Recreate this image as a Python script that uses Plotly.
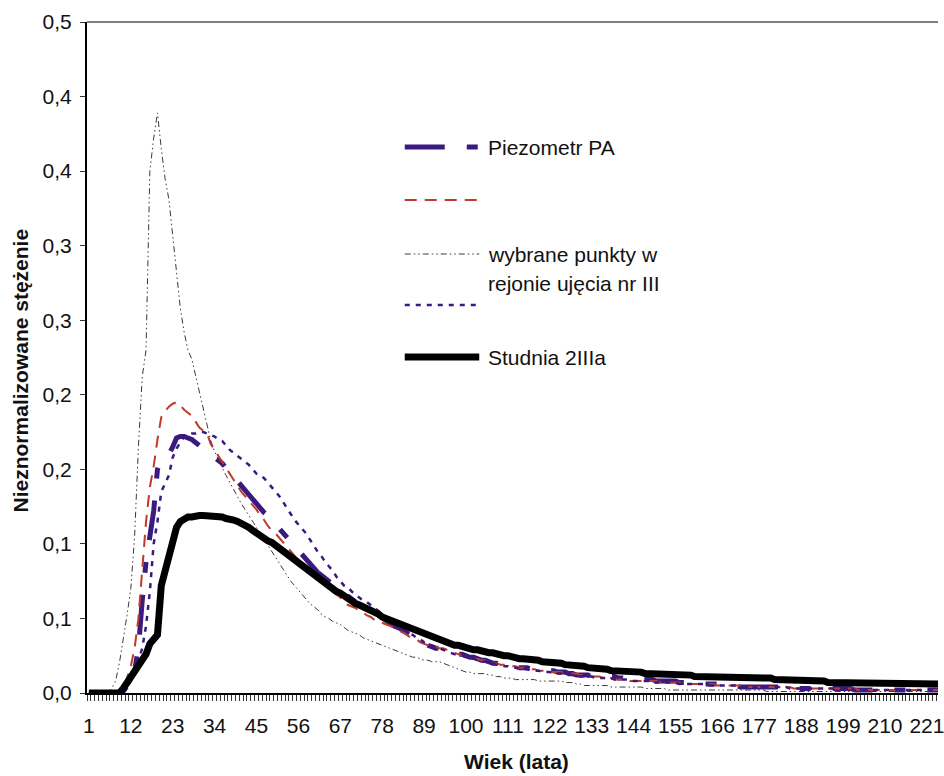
import plotly.graph_objects as go

# ---------------- data ----------------
age = list(range(1, 227))            # Wiek (lata), categories 1..226
x_tick_ages = list(range(1, 222, 11))  # 1, 12, 23, ..., 221
y_tick_vals = [0, 0.05, 0.10, 0.15, 0.20, 0.25, 0.30, 0.35, 0.40, 0.45]
y_tick_text = ["0,0", "0,1", "0,1", "0,2", "0,2", "0,3", "0,3", "0,4", "0,4", "0,5"]

piezometr_pa = (
    [0, 0, 0, 0, 0, 0, 0, 0, 0, 0.001] +
    [0.004, 0.008, 0.015, 0.030, 0.062, 0.088, 0.105, 0.122, 0.150, 0.157] +
    [0.158, 0.160, 0.165, 0.171, 0.172, 0.172, 0.171, 0.170, 0.168, 0.166] +
    [0.165, 0.163, 0.161, 0.159, 0.157, 0.154, 0.151, 0.148, 0.144, 0.141] +
    [0.138, 0.135, 0.132, 0.130, 0.127, 0.124, 0.121, 0.119, 0.116, 0.113] +
    [0.110, 0.107, 0.104, 0.101, 0.098, 0.095, 0.092, 0.089, 0.086, 0.083] +
    [0.081, 0.079, 0.077, 0.074, 0.072, 0.070, 0.068, 0.066, 0.064, 0.063] +
    [0.061, 0.060, 0.058, 0.057, 0.055, 0.054, 0.052, 0.050, 0.048, 0.046] +
    [0.045, 0.044, 0.043, 0.041, 0.039, 0.038, 0.037, 0.035, 0.033, 0.032] +
    [0.031, 0.030, 0.030, 0.029, 0.029, 0.028, 0.027, 0.026, 0.026, 0.025] +
    [0.024, 0.024, 0.023, 0.022, 0.022, 0.021, 0.020, 0.020, 0.019, 0.019] +
    [0.019, 0.018, 0.017, 0.017, 0.017, 0.017, 0.016, 0.016, 0.016, 0.016] +
    [0.016, 0.015, 0.015, 0.014, 0.014, 0.014, 0.013, 0.013, 0.012, 0.012] +
    [0.012, 0.012, 0.011, 0.011, 0.011, 0.011, 0.011, 0.011, 0.011, 0.010] +
    [0.010, 0.009, 0.009, 0.009, 0.009, 0.009, 0.009, 0.009, 0.009, 0.008] +
    [0.008, 0.008, 0.008, 0.008, 0.008, 0.007, 0.007, 0.007, 0.007, 0.007] +
    [0.007, 0.006, 0.006, 0.006, 0.006, 0.006, 0.005, 0.005, 0.005, 0.005] +
    [0.005] + [0.004] * 9 +
    [0.004] * 4 + [0.003] * 6 +
    [0.003] * 10 +
    [0.003] + [0.002] * 9 +
    [0.002] * 16
)

seria_czerwona = (
    [0, 0, 0, 0, 0, 0, 0, 0, 0, 0.004] +
    [0.010, 0.018, 0.030, 0.050, 0.085, 0.115, 0.138, 0.152, 0.170, 0.185] +
    [0.189, 0.192, 0.194, 0.195, 0.193, 0.190, 0.188, 0.186, 0.182, 0.178] +
    [0.176, 0.174, 0.167, 0.163, 0.159, 0.155, 0.151, 0.147, 0.143, 0.139] +
    [0.135, 0.132, 0.129, 0.126, 0.123, 0.119, 0.116, 0.112, 0.109, 0.107] +
    [0.104, 0.101, 0.098, 0.095, 0.092, 0.089, 0.087, 0.084, 0.081, 0.079] +
    [0.077, 0.075, 0.072, 0.070, 0.068, 0.066, 0.064, 0.061, 0.059, 0.058] +
    [0.057, 0.055, 0.054, 0.052, 0.051, 0.049, 0.048, 0.047, 0.046, 0.045] +
    [0.044, 0.043, 0.041, 0.040, 0.038, 0.037, 0.036, 0.034, 0.033, 0.032] +
    [0.031, 0.031, 0.030, 0.030, 0.029, 0.028, 0.027, 0.026, 0.025, 0.024] +
    [0.024, 0.023, 0.023, 0.022, 0.022, 0.021, 0.020, 0.020, 0.019, 0.019] +
    [0.018, 0.018, 0.018, 0.017, 0.017, 0.016, 0.016, 0.016, 0.015, 0.015] +
    [0.015, 0.014, 0.014, 0.014, 0.014, 0.013, 0.013, 0.013, 0.013, 0.012] +
    [0.012, 0.012, 0.011, 0.011, 0.011, 0.010, 0.010, 0.010, 0.009, 0.009] +
    [0.009, 0.009, 0.008, 0.008, 0.008, 0.008, 0.008, 0.008, 0.008, 0.008] +
    [0.007, 0.007, 0.007, 0.007, 0.007, 0.007, 0.006, 0.006, 0.006, 0.006] +
    [0.006] * 5 + [0.005] * 5 +
    [0.005, 0.005] + [0.004] * 8 +
    [0.004] * 5 + [0.003] * 5 +
    [0.003] * 10 +
    [0.003, 0.003] + [0.002] * 8 +
    [0.002] * 16
)

wybrane_punkty = (
    [0, 0, 0, 0, 0, 0, 0.003, 0.008, 0.020, 0.035] +
    [0.052, 0.070, 0.105, 0.165, 0.212, 0.230, 0.350, 0.372, 0.389, 0.365] +
    [0.345, 0.331, 0.305, 0.280, 0.258, 0.242, 0.230, 0.224, 0.213, 0.200] +
    [0.191, 0.180, 0.169, 0.162, 0.156, 0.151, 0.146, 0.141, 0.136, 0.131] +
    [0.127, 0.123, 0.119, 0.115, 0.111, 0.107, 0.103, 0.099, 0.095, 0.091] +
    [0.087, 0.083, 0.079, 0.075, 0.072, 0.069, 0.066, 0.063, 0.060, 0.058] +
    [0.056, 0.053, 0.051, 0.050, 0.048, 0.047, 0.046, 0.044, 0.042, 0.041] +
    [0.040, 0.039, 0.037, 0.036, 0.035, 0.034, 0.033, 0.032, 0.031, 0.030] +
    [0.029, 0.028, 0.027, 0.026, 0.025, 0.024, 0.024, 0.023, 0.022, 0.022] +
    [0.021, 0.021, 0.021, 0.020, 0.019, 0.018, 0.017, 0.016, 0.015, 0.014] +
    [0.014, 0.013, 0.013, 0.013, 0.013, 0.012, 0.012, 0.011, 0.011, 0.010] +
    [0.010, 0.010, 0.009, 0.009, 0.009, 0.009, 0.009, 0.009, 0.008, 0.008] +
    [0.008, 0.008, 0.008, 0.008, 0.008, 0.007, 0.007, 0.007, 0.006, 0.006] +
    [0.005, 0.005, 0.005, 0.005, 0.005, 0.005, 0.005, 0.004, 0.004, 0.004] +
    [0.004] * 6 + [0.003] * 4 +
    [0.003, 0.003] + [0.002] * 8 +
    [0.002] * 10 +
    [0.002] * 8 + [0.001] * 2 +
    [0.001] * 46
)

seria_kropkowana = (
    [0, 0, 0, 0, 0, 0, 0, 0, 0, 0.001] +
    [0.004, 0.008, 0.014, 0.022, 0.030, 0.045, 0.068, 0.100, 0.115, 0.135] +
    [0.140, 0.146, 0.158, 0.164, 0.168, 0.172, 0.173, 0.174, 0.174, 0.175] +
    [0.175, 0.174, 0.173, 0.172, 0.170, 0.169, 0.166, 0.163, 0.161, 0.159] +
    [0.157, 0.155, 0.153, 0.150, 0.147, 0.146, 0.144, 0.141, 0.138, 0.135] +
    [0.132, 0.128, 0.124, 0.120, 0.116, 0.113, 0.110, 0.107, 0.103, 0.099] +
    [0.095, 0.092, 0.088, 0.085, 0.082, 0.078, 0.075, 0.072, 0.071, 0.068] +
    [0.066, 0.064, 0.062, 0.061, 0.059, 0.057, 0.055, 0.053, 0.051, 0.049] +
    [0.047, 0.045, 0.044, 0.042, 0.040, 0.039, 0.037, 0.036, 0.034, 0.033] +
    [0.032, 0.031, 0.030, 0.029, 0.028, 0.027, 0.026, 0.026, 0.025, 0.024] +
    [0.023, 0.023, 0.022, 0.021, 0.021, 0.020, 0.020, 0.019, 0.019, 0.018] +
    [0.018, 0.017, 0.017, 0.016, 0.016, 0.016, 0.015, 0.015, 0.015, 0.014] +
    [0.014, 0.014, 0.013, 0.013, 0.013, 0.012, 0.012, 0.012, 0.012, 0.011] +
    [0.011, 0.011, 0.011, 0.010, 0.010, 0.010, 0.010, 0.010, 0.009, 0.009] +
    [0.009, 0.009, 0.009, 0.008, 0.008, 0.008, 0.008, 0.008, 0.007, 0.007] +
    [0.007] * 5 + [0.006] * 5 +
    [0.006] * 3 + [0.005] * 7 +
    [0.005, 0.005] + [0.004] * 8 +
    [0.004] * 4 + [0.003] * 6 +
    [0.003] * 10 +
    [0.003] + [0.002] * 9 +
    [0.002] * 16
)

studnia_2IIIa = (
    [0, 0, 0, 0, 0, 0, 0, 0, 0, 0.003] +
    [0.007, 0.011, 0.014, 0.017, 0.022, 0.026, 0.033, 0.037, 0.039, 0.072] +
    [0.082, 0.090, 0.103, 0.111, 0.115, 0.117, 0.118, 0.118, 0.119, 0.119] +
    [0.119, 0.119, 0.119, 0.119, 0.118, 0.118, 0.117, 0.117, 0.116, 0.115] +
    [0.114, 0.113, 0.111, 0.109, 0.107, 0.106, 0.104, 0.102, 0.101, 0.099] +
    [0.098, 0.096, 0.094, 0.092, 0.090, 0.088, 0.086, 0.084, 0.081, 0.079] +
    [0.077, 0.075, 0.074, 0.072, 0.070, 0.068, 0.067, 0.065, 0.063, 0.062] +
    [0.060, 0.059, 0.058, 0.057, 0.055, 0.054, 0.053, 0.051, 0.050, 0.049] +
    [0.048, 0.047, 0.046, 0.044, 0.043, 0.042, 0.041, 0.040, 0.039, 0.038] +
    [0.038, 0.037, 0.036, 0.035, 0.034, 0.033, 0.032, 0.032, 0.031, 0.030] +
    [0.030, 0.029, 0.029, 0.028, 0.028, 0.027, 0.027, 0.026, 0.026, 0.025] +
    [0.025, 0.024, 0.024, 0.023, 0.023, 0.023, 0.022, 0.022, 0.022, 0.021] +
    [0.021, 0.021, 0.020, 0.020, 0.020, 0.019, 0.019, 0.019, 0.018, 0.018] +
    [0.018, 0.017, 0.017, 0.017, 0.016, 0.016, 0.016, 0.015, 0.015, 0.015] +
    [0.015, 0.014, 0.014, 0.014, 0.014, 0.014, 0.013, 0.013, 0.013, 0.013] +
    [0.013, 0.012, 0.012, 0.012, 0.012, 0.012, 0.012, 0.012, 0.012, 0.011] +
    [0.011, 0.011, 0.011, 0.011, 0.011, 0.011, 0.010, 0.010, 0.010, 0.010] +
    [0.010] * 10 +
    [0.009] * 5 + [0.008] * 5 +
    [0.008] * 4 + [0.007] * 6 +
    [0.007] * 10 +
    [0.007, 0.007] + [0.006] * 8 +
    [0.006] * 6
)

for s in (piezometr_pa, seria_czerwona, wybrane_punkty, seria_kropkowana, studnia_2IIIa):
    assert len(s) == len(age), len(s)

# ---------------- styles ----------------
PURPLE = "#3b1a80"
RED = "#c0392b"
GRAY = "#3a3a3a"
FONT = "Liberation Sans, Arial, sans-serif"
TXT = "#111111"

st_piezo = dict(color=PURPLE, width=5, dash="40px,22px,11px,22px")
st_red = dict(color=RED, width=2, dash="12px,8px")
st_gray = dict(color=GRAY, width=1, dash="6px,3px,1.5px,3px,1.5px,3px")
st_blue = dict(color=PURPLE, width=2.5, dash="5px,6px")
st_black = dict(color="black", width=7)

fig = go.Figure()
fig.add_trace(go.Scatter(x=age, y=piezometr_pa, mode="lines", line=st_piezo, name="Piezometr PA"))
fig.add_trace(go.Scatter(x=age, y=seria_czerwona, mode="lines", line=st_red, name=" "))
fig.add_trace(go.Scatter(x=age, y=wybrane_punkty, mode="lines", line=st_gray,
                         name="wybrane punkty w rejonie ujęcia nr III"))
fig.add_trace(go.Scatter(x=age, y=seria_kropkowana, mode="lines", line=st_blue, name="  "))
fig.add_trace(go.Scatter(x=age, y=studnia_2IIIa, mode="lines", line=st_black, name="Studnia 2IIIa"))

# ---------------- layout geometry ----------------
W, H = 944, 776
L, T = 87, 22
PW, PH = W - L, 671

def fx(px):
    return (px - L) / PW

def fy(py):
    return (T + PH - py) / PH

# custom legend (placed like the original chart)
legend_rows = [
    (147, st_piezo, "Piezometr PA"),
    (200, st_red, None),
    (254, st_gray, "wybrane punkty w"),
    (305, st_blue, None),
    (357, st_black, "Studnia 2IIIa"),
]
shapes = [
    # plot-area top border
    dict(type="line", xref="paper", yref="paper", x0=0, x1=1, y0=1, y1=1,
         line=dict(color="#808080", width=2)),
]
annotations = []
for ypix, st, label in legend_rows:
    shapes.append(dict(type="line", xref="paper", yref="paper",
                       x0=fx(407), x1=fx(482), y0=fy(ypix), y1=fy(ypix), line=st))
    if label:
        annotations.append(dict(text=label, xref="paper", yref="paper", x=fx(489), y=fy(ypix),
                                xanchor="left", yanchor="middle", showarrow=False,
                                font=dict(size=21, color=TXT, family=FONT)))
annotations.append(dict(text="rejonie ujęcia nr III", xref="paper", yref="paper", x=fx(489), y=fy(283),
                        xanchor="left", yanchor="middle", showarrow=False,
                        font=dict(size=21, color=TXT, family=FONT)))
# axis titles
annotations.append(dict(text="<b>Wiek (lata)</b>", xref="paper", yref="paper", x=fx(520), y=fy(762),
                        xanchor="center", yanchor="middle", showarrow=False,
                        font=dict(size=21, color=TXT, family=FONT)))
annotations.append(dict(text="<b>Nieznormalizowane stężenie</b>", xref="paper", yref="paper",
                        x=fx(20), y=fy(370), xanchor="center", yanchor="middle", textangle=-90,
                        showarrow=False, font=dict(size=21, color=TXT, family=FONT)))

fig.update_layout(
    width=W, height=H,
    margin=dict(l=L, r=0, t=T, b=H - T - PH, pad=0),
    paper_bgcolor="white", plot_bgcolor="white",
    showlegend=False,
    font=dict(family=FONT, size=21, color=TXT),
    shapes=shapes, annotations=annotations,
    xaxis=dict(
        range=[0.5, 0.5 + PW / 3.836],
        tickmode="array", tickvals=x_tick_ages, ticktext=[str(v) for v in x_tick_ages],
        ticks="", showgrid=False, zeroline=False,
        showline=True, linecolor="black", linewidth=2,
        tickfont=dict(size=21, family=FONT, color=TXT),
        ticklabelstandoff=13, ticklabeloverflow="allow",
        minor=dict(ticks="outside", tick0=0.5, dtick=1, ticklen=6, tickwidth=1,
                   tickcolor="#333333", showgrid=False),
    ),
    yaxis=dict(
        range=[0, 0.45],
        tickmode="array", tickvals=y_tick_vals, ticktext=y_tick_text,
        ticks="outside", ticklen=5, tickwidth=1, tickcolor="#333333",
        showgrid=False, zeroline=False,
        showline=True, linecolor="black", linewidth=2,
        tickfont=dict(size=21, family=FONT, color=TXT),
        ticklabelstandoff=4,
    ),
)

fig.write_html("out.html", config={"displayModeBar": False},
               post_script="document.body.style.margin='0px';document.body.style.overflow='hidden';")
